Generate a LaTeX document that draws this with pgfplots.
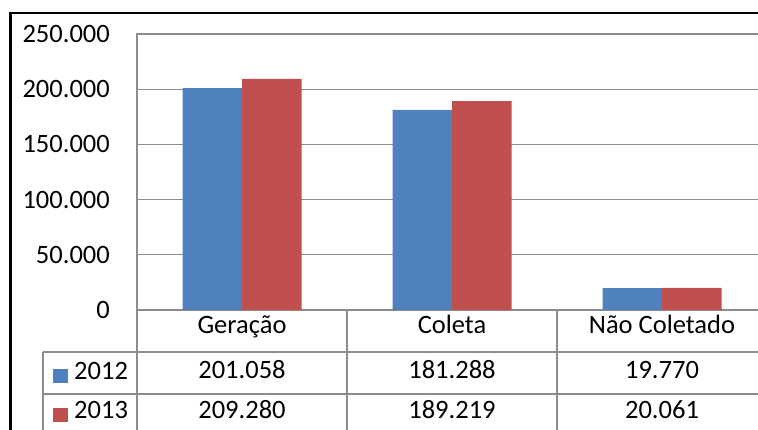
\documentclass[border=0pt]{standalone}
\usepackage{fontspec}
\setmainfont{Carlito}
\usepackage{pgfplots}
\pgfplotsset{compat=1.18}
\definecolor{gridcol}{RGB}{140,140,140}
\definecolor{blueb}{RGB}{79,129,189}
\definecolor{redb}{RGB}{192,80,77}
\newcommand{\tf}{\fontsize{26.5}{30}\selectfont}
\begin{document}
\begin{tikzpicture}[x=1pt,y=1pt]
\useasboundingbox (0,0) rectangle (758,430);
\clip (0,0) rectangle (758,430);
\fill[white] (0,0) rectangle (758,430);
\begin{axis}[
  at={(137pt,120pt)}, anchor=south west,
  scale only axis, width=630pt, height=276pt,
  ybar=0pt, bar width=59.5pt,
  xmin=-0.5, xmax=2.5, ymin=0, ymax=250000,
  xtick={0,1,2}, xticklabels={Geração,Coleta,Não Coletado},
  ytick={0,50000,100000,150000,200000,250000},
  major tick length=0pt,
  ymajorgrids, grid style={gridcol, line width=1.3pt},
  axis line style={gridcol, line width=1.3pt},
  scaled y ticks=false,
  yticklabel style={/pgf/number format/fixed, /pgf/number format/1000 sep={.}, /pgf/number format/assume math mode=true},
  tick label style={font=\tf},
  yticklabel style={inner sep=0pt, anchor=east, xshift=-27pt},
  xticklabel style={anchor=center, inner sep=0pt, text height=0.68em, text depth=0.2em, yshift=-21pt},
]
\addplot[fill=blueb, draw=none] coordinates {(0,201058) (1,181288) (2,19770)};
\addplot[fill=redb, draw=none] coordinates {(0,209280) (1,189219) (2,20061)};
\end{axis}
% data table lines
\draw[gridcol, line width=1.3pt] (43,78) -- (770,78);
\draw[gridcol, line width=1.3pt] (43,36) -- (770,36);
\draw[gridcol, line width=1.3pt] (43,78) -- (43,-10);
\draw[gridcol, line width=1.3pt] (137,120) -- (137,-10);
\draw[gridcol, line width=1.3pt] (347,120) -- (347,-10);
\draw[gridcol, line width=1.3pt] (557,120) -- (557,-10);
% legend keys
\fill[blueb] (53,47) rectangle (68,61);
\fill[redb] (53,8) rectangle (68,22);
\node[anchor=west, inner sep=0pt, font=\tf, text height=0.68em, text depth=0pt] at (74,54) {2012};
\node[anchor=west, inner sep=0pt, font=\tf, text height=0.68em, text depth=0pt] at (74,15) {2013};
% values
\foreach \x/\a/\b in {242/201.058/209.280, 452/181.288/189.219, 662/19.770/20.061}{
  \node[inner sep=0pt, font=\tf, text height=0.68em, text depth=0pt] at (\x,55) {\a};
  \node[inner sep=0pt, font=\tf, text height=0.68em, text depth=0pt] at (\x,15) {\b};
}
% outer frame
\draw[black, line width=2.6pt] (10.5,-10) -- (10.5,417) -- (770,417);
\end{tikzpicture}
\end{document}
